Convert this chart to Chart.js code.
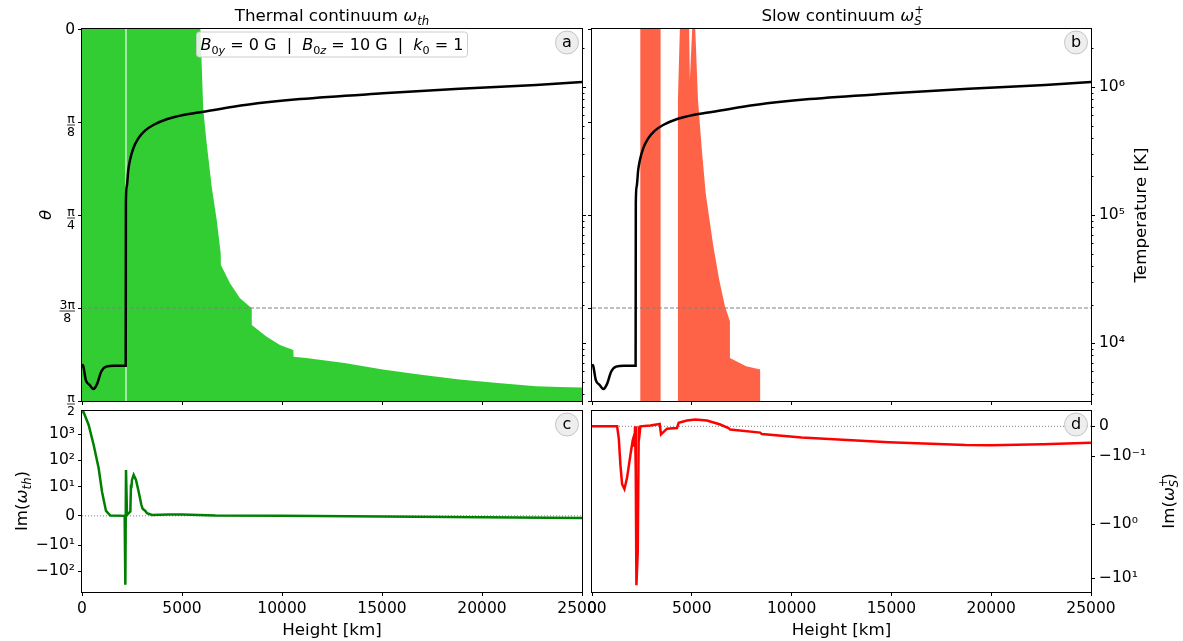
<!DOCTYPE html>
<html>
<head>
<meta charset="utf-8">
<script src="https://cdn.jsdelivr.net/npm/chart.js@4.4.1/dist/chart.umd.min.js"></script>
<style>
  body { margin: 0; background: #fff; width: 1183px; height: 641px; position: relative; overflow: hidden; }
  canvas { position: absolute; }
</style>
</head>
<body>
<canvas id="pa" width="590" height="420" style="left:0;top:0"></canvas>
<canvas id="pb" width="596" height="420" style="left:587px;top:0"></canvas>
<canvas id="pc" width="620" height="236" style="left:0;top:405px"></canvas>
<canvas id="pd" width="596" height="236" style="left:587px;top:405px"></canvas>
<script>
/* ── data ── */
const heightTicks = [0, 5000, 10000, 15000, 20000, 25000];
const thetaTicks = [0, Math.PI / 8, Math.PI / 4, 3 * Math.PI / 8, Math.PI / 2];
const thetaTickLabels = [['0'], ['π', '8'], ['π', '4'], ['3π', '8'], ['π', '2']];
const tempTicks = [1e4, 1e5, 1e6];
const tempTickLabels = ['10⁴', '10⁵', '10⁶'];
const imThTicks = [1000, 100, 10, 0, -10, -100];
const imThTickLabels = ['10³', '10²', '10¹', '0', '−10¹', '−10²'];
const imSTicks = [0, -0.1, -1, -10];
const imSTickLabels = ['0', '−10⁻¹', '−10⁰', '−10¹'];

const refTheta = 3 * Math.PI / 8;       // dashed guide line
const thermalGapHeight = 2200;          // thin white line in panel a

// temperature profile (km, K)
const tempHeight = [0, 57, 192, 383, 575, 766, 958, 1207, 1600, 2185, 2195, 2235, 2315, 2400, 2565,
  2815, 3150, 3565, 4235, 5065, 6065, 7565, 9235, 10900, 15038, 18870, 22701, 25000];
const tempK = [6800, 6650, 5140, 4700, 4380, 4840, 5970, 6540, 6650, 6650, 124000, 166000, 225000, 269000, 332000,
  397000, 456000, 505000, 560000, 604000, 641000, 702000, 759000, 806000, 893000, 970000, 1037000, 1094000];

// thermal continuum region: upper edge in theta (rad), filled down to pi/2
const thermalEdgeHeight = [0, 5920, 6065, 6235, 6485, 6735, 6935, 6945, 7400, 7900, 8485, 8490, 9235, 9900,
  10565, 10580, 11207, 13123, 15038, 16954, 18870, 20785, 22701, 23851, 25000];
const thermalEdgeTheta = [0, 0, 0.342, 0.483, 0.666, 0.807, 0.947, 0.997, 1.074, 1.137, 1.179, 1.250, 1.299, 1.334,
  1.355, 1.384, 1.389, 1.410, 1.438, 1.460, 1.480, 1.495, 1.509, 1.512, 1.514];

// slow continuum region outline (km, rad), filled down to pi/2
const slowHeight = [2413, 2413, 3436, 3436, 4305, 4305, 4402, 4865, 4903, 5019, 5174, 5309, 5502, 5695,
  5792, 6081, 6371, 6660, 6911, 6911, 7722, 8436, 8436];
const slowTheta = [1.571, 0, 0, 1.571, 1.571, 0.298, 0, 0, 0.214, 0, 0, 0.298, 0.509, 0.692,
  0.749, 0.918, 1.058, 1.171, 1.234, 1.389, 1.424, 1.438, 1.571];

// Im(omega_th)
const imThHeight = [0, 83, 333, 583, 833, 1000, 1083, 1200, 1417, 2133, 2167, 2200, 2250, 2417, 2450, 2467,
  2500, 2583, 2700, 2833, 2967, 3033, 3167, 3250, 3500, 4333, 5000, 6667, 10000, 15000, 20000, 25000];
const imThValue = [7000, 6760, 2230, 388, 50, 8.3, 5.5, 1.7, 0.1, 0, -324, 43, 0.3, 1.5, 12, 9.5,
  18, 28, 18, 8.3, 3.8, 2.4, 1.7, 0.9, 0.3, 0.5, 0.5, 0.1, 0, -0.2, -0.45, -0.7];

// Im(omega_S+)
const imSHeight = [0, 1258, 1342, 1425, 1508, 1625, 1758, 1925, 2042, 2092, 2125, 2158, 2192, 2225, 2292,
  2342, 2392, 2425, 2925, 3392, 3458, 3758, 4258, 4342, 4758, 5175, 5758, 6425, 6842, 6925, 8425, 8508,
  10500, 14865, 18726, 20000, 22587, 25000];
const imSValue = [0, 0, -0.04, -0.13, -0.193, -0.225, -0.171, -0.095, -0.046, -0.035, -0.068, 0, -0.15, -13.5, -3.2,
  0, -0.02, 0, 0.003, 0.008, -0.027, -0.008, -0.006, 0.012, 0.019, 0.023, 0.019, 0.006, -0.006, -0.011, -0.021, -0.026,
  -0.037, -0.053, -0.062, -0.063, -0.060, -0.055];

/* ── helpers ── */
const FONT = '"DejaVu Sans", sans-serif';
Chart.defaults.font.family = FONT;
Chart.defaults.color = '#000';

function pts(xs, ys) { return xs.map((x, i) => ({ x: x, y: ys[i] })); }

// symmetric log axis (matplotlib style, linscale 1)
class SymlogScale extends Chart.LinearScale {
  tf(v) {
    const c = this.options.linthresh, L = 10 / 9, a = Math.abs(v);
    return a <= c ? v / c * L : Math.sign(v) * (L + Math.log10(a / c));
  }
  itf(u) {
    const c = this.options.linthresh, L = 10 / 9, a = Math.abs(u);
    return a <= L ? u / L * c : Math.sign(u) * c * Math.pow(10, a - L);
  }
  buildTicks() { return this.options.tickValues.map(v => ({ value: v })); }
  getPixelForValue(v) {
    const s = this.tf(this.min), e = this.tf(this.max);
    return this.getPixelForDecimal((this.tf(v) - s) / (e - s));
  }
  getValueForPixel(p) {
    const s = this.tf(this.min), e = this.tf(this.max);
    return this.itf(s + this.getDecimalForPixel(p) * (e - s));
  }
}
SymlogScale.id = 'symlog';
SymlogScale.defaults = {};
Chart.register(SymlogScale);

// fixed axis size, no extra label padding so the plot boxes line up
function fixSize(prop, n) {
  return s => {
    s[prop] = n;
    s.paddingLeft = s.paddingRight = s.paddingTop = s.paddingBottom = 0;
  };
}

// text with italic / sub / superscript parts, centred on (cx, cy)
function richText(ctx, parts, cx, cy, size, rot) {
  ctx.save();
  ctx.translate(cx, cy);
  ctx.rotate(rot || 0);
  const items = [];
  let w = 0;
  parts.forEach(p => {
    const s = (p.sub || p.sup) ? size * 0.7 : size;
    ctx.font = (p.it ? 'italic ' : '') + s + 'px ' + FONT;
    items.push({ p: p, s: s, x: w });
    if (!p.stack) w += ctx.measureText(p.t).width;
  });
  ctx.fillStyle = '#000';
  ctx.textAlign = 'left';
  ctx.textBaseline = 'alphabetic';
  items.forEach(it => {
    ctx.font = (it.p.it ? 'italic ' : '') + it.s + 'px ' + FONT;
    const dy = it.p.sub ? size * 0.22 : it.p.sup ? -size * 0.4 : 0;
    ctx.fillText(it.p.t, it.x - w / 2, size * 0.35 + dy);
  });
  ctx.restore();
  return w;
}

function decor(o) {
  return {
    id: 'decor',
    afterDraw(chart) {
      const ctx = chart.ctx, a = chart.chartArea;
      ctx.save();
      // minor ticks of the temperature axis
      if (o.minorT) {
        const s = chart.scales.T;
        ctx.strokeStyle = '#000';
        ctx.lineWidth = 1;
        for (let e = 3; e <= 6; e++) {
          for (let k = 2; k <= 9; k++) {
            const v = k * Math.pow(10, e);
            if (v < s.min || v > s.max) continue;
            const y = Math.round(s.getPixelForValue(v)) + 0.5;
            ctx.beginPath(); ctx.moveTo(a.right, y); ctx.lineTo(a.right + 2.5, y); ctx.stroke();
          }
        }
      }
      // theta tick labels as fractions
      if (o.thetaLabels) {
        const s = chart.scales.y;
        thetaTicks.forEach((v, i) => {
          const y = s.getPixelForValue(v);
          const lab = thetaTickLabels[i];
          const right = a.left - 7;
          ctx.fillStyle = '#000';
          if (lab.length === 1) {
            ctx.font = '15.5px ' + FONT;
            ctx.textAlign = 'right'; ctx.textBaseline = 'middle';
            ctx.fillText(lab[0], right, y + 1);
            return;
          }
          ctx.font = '12.5px ' + FONT;
          const w = Math.max(ctx.measureText(lab[0]).width, ctx.measureText(lab[1]).width);
          const cx = right - w / 2, by = y + 3;
          ctx.textAlign = 'center';
          ctx.textBaseline = 'alphabetic';
          ctx.fillText(lab[0], cx, by - 2);
          ctx.textBaseline = 'top';
          ctx.fillText(lab[1], cx, by + 1.5);
          ctx.strokeStyle = '#000'; ctx.lineWidth = 0.8;
          ctx.beginPath(); ctx.moveTo(cx - w / 2, by); ctx.lineTo(cx + w / 2, by); ctx.stroke();
        });
      }
      // frame
      ctx.strokeStyle = '#000';
      ctx.lineWidth = 1;
      ctx.strokeRect(a.left - 0.5, a.top - 0.5, a.right - a.left + 1, a.bottom - a.top + 1);
      // parameter box
      if (o.box) {
        const cx = (a.left + a.right) / 2, cy = a.top + 15.5;
        const probe = document.createElement('canvas').getContext('2d');
        const w = richText(probe, o.box, 0, 0, 16);
        const bw = w + 8, bh = 25;
        ctx.beginPath();
        ctx.roundRect(cx - bw / 2, cy - bh / 2, bw, bh, 3);
        ctx.fillStyle = 'rgba(255,255,255,0.8)'; ctx.fill();
        ctx.strokeStyle = '#cccccc'; ctx.lineWidth = 1; ctx.stroke();
        richText(ctx, o.box, cx, cy, 16);
      }
      // panel letter
      if (o.letter) {
        const cx = a.right - 15, cy = a.top + 13.5;
        ctx.beginPath(); ctx.arc(cx, cy, 11.5, 0, 2 * Math.PI);
        ctx.fillStyle = 'rgba(236,236,236,0.9)'; ctx.fill();
        ctx.strokeStyle = '#c4c4c4'; ctx.lineWidth = 1; ctx.stroke();
        ctx.fillStyle = '#000'; ctx.font = '16px ' + FONT;
        ctx.textAlign = 'center'; ctx.textBaseline = 'middle';
        ctx.fillText(o.letter, cx, cy + 0.5);
      }
      if (o.title) richText(ctx, o.title, (a.left + a.right) / 2, 15, 16.7);
      (o.labels || []).forEach(l => richText(ctx, l.parts, l.x, l.y, 16.7, -Math.PI / 2));
      ctx.restore();
    }
  };
}

function xAxis(showLabels, h) {
  return {
    type: 'linear', position: 'bottom', min: 0, max: 25000,
    afterBuildTicks: s => { s.ticks = heightTicks.map(v => ({ value: v })); },
    ticks: { display: showLabels, autoSkip: false, maxRotation: 0, padding: 4, font: { size: 15.5 }, color: '#000',
      callback: v => String(v) },
    grid: { drawOnChartArea: false, drawTicks: true, tickLength: 4, tickColor: '#000' },
    border: { display: false },
    title: { display: showLabels, text: 'Height [km]', font: { size: 16.7 }, color: '#000', padding: { top: 0, bottom: 0 } },
    afterFit: fixSize('height', h)
  };
}

function thetaAxis(w) {
  return {
    type: 'linear', position: 'left', min: 0, max: Math.PI / 2, reverse: true,
    afterBuildTicks: s => { s.ticks = thetaTicks.map(v => ({ value: v })); },
    ticks: { display: false },
    grid: { drawOnChartArea: false, drawTicks: true, tickLength: 4, tickColor: '#000' },
    border: { display: false },
    afterFit: fixSize('width', w)
  };
}

function tempAxis(showLabels, w) {
  return {
    type: 'logarithmic', position: 'right', min: 3525, max: 2.84e6,
    afterBuildTicks: s => { s.ticks = tempTicks.map(v => ({ value: v, major: true })); },
    ticks: { display: showLabels, autoSkip: false, padding: 4, font: { size: 15.5 }, color: '#000',
      callback: (v, i) => tempTickLabels[i] },
    grid: { drawOnChartArea: false, drawTicks: true, tickLength: 4, tickColor: '#000' },
    border: { display: false },
    afterFit: fixSize('width', w)
  };
}

function symAxis(pos, min, max, c, values, labels, w, pad) {
  return {
    type: 'symlog', position: pos, min: min, max: max, linthresh: c, tickValues: values,
    ticks: { autoSkip: false, padding: pad, font: { size: 15.5 }, color: '#000', callback: (v, i) => labels[i] },
    grid: { drawOnChartArea: false, drawTicks: true, tickLength: 4, tickColor: '#000' },
    border: { display: false },
    afterFit: fixSize('width', w)
  };
}

const common = {
  responsive: false, animation: false, devicePixelRatio: 1,
  plugins: { legend: { display: false }, tooltip: { enabled: false } },
  elements: { point: { radius: 0 }, line: { tension: 0 } }
};

function refLine(y, axis) {
  return { data: pts([0, 25000], [y, y]), yAxisID: axis, borderColor: '#808080', borderWidth: 1,
    borderDash: [4, 2], fill: false, order: 1 };
}

function tempDataset() {
  return { data: pts(tempHeight, tempK), yAxisID: 'T', borderColor: '#000', borderWidth: 2.5,
    cubicInterpolationMode: 'monotone', fill: false, order: 0 };
}

/* ── panel a: thermal continuum ── */
new Chart(document.getElementById('pa'), {
  type: 'line',
  data: { datasets: [
    tempDataset(),
    refLine(refTheta, 'y'),
    { data: pts([thermalGapHeight, thermalGapHeight], [0, Math.PI / 2]), yAxisID: 'y',
      borderColor: 'rgba(255,255,255,0.85)', borderWidth: 1.3, fill: false, order: 2 },
    { data: pts(thermalEdgeHeight, thermalEdgeTheta), yAxisID: 'y', borderWidth: 0, borderColor: '#32cd32',
      backgroundColor: '#32cd32', fill: { value: Math.PI / 2 }, order: 3 }
  ] },
  options: Object.assign({}, common, {
    layout: { autoPadding: false, padding: { top: 29, left: 0, right: 0, bottom: 0 } },
    scales: { x: xAxis(false, 19), y: thetaAxis(82), T: tempAxis(false, 8) }
  }),
  plugins: [decor({
    minorT: true, thetaLabels: true, letter: 'a',
    title: [{ t: 'Thermal continuum ' }, { t: 'ω', it: true }, { t: 'th', sub: true, it: true }],
    labels: [{ parts: [{ t: 'θ', it: true }], x: 45, y: 215 }],
    box: [{ t: 'B', it: true }, { t: '0', sub: true }, { t: 'y', sub: true, it: true }, { t: ' = 0 G  |  ' },
      { t: 'B', it: true }, { t: '0', sub: true }, { t: 'z', sub: true, it: true }, { t: ' = 10 G  |  ' },
      { t: 'k', it: true }, { t: '0', sub: true }, { t: ' = 1' }]
  })]
});

/* ── panel b: slow continuum ── */
new Chart(document.getElementById('pb'), {
  type: 'line',
  data: { datasets: [
    tempDataset(),
    refLine(refTheta, 'y'),
    { data: pts(slowHeight, slowTheta), yAxisID: 'y', borderWidth: 0, borderColor: '#ff6347',
      backgroundColor: '#ff6347', fill: { value: Math.PI / 2 }, order: 3 }
  ] },
  options: Object.assign({}, common, {
    layout: { autoPadding: false, padding: { top: 29, left: 0, right: 0, bottom: 0 } },
    scales: { x: xAxis(false, 19), y: thetaAxis(5), T: tempAxis(true, 92) }
  }),
  plugins: [decor({
    minorT: true, letter: 'b',
    title: [{ t: 'Slow continuum ' }, { t: 'ω', it: true }, { t: '+', sup: true, stack: true }, { t: 'S', sub: true, it: true }],
    labels: [{ parts: [{ t: 'Temperature [K]' }], x: 553, y: 215 }]
  })]
});

/* ── panel c: Im(omega_th) ── */
new Chart(document.getElementById('pc'), {
  type: 'line',
  data: { datasets: [
    { data: pts(imThHeight, imThValue), borderColor: '#008000', borderWidth: 2.5, fill: false, order: 0 },
    { data: pts([0, 25000], [0, 0]), borderColor: '#808080', borderWidth: 1, borderDash: [1, 2], fill: false, order: 1 }
  ] },
  options: Object.assign({}, common, {
    layout: { autoPadding: false, padding: { top: 6, left: 0, right: 38, bottom: 0 } },
    scales: { x: xAxis(true, 49), y: symAxis('left', -612, 7600, 10, imThTicks, imThTickLabels, 82, 3) }
  }),
  plugins: [decor({
    letter: 'c',
    labels: [{ parts: [{ t: 'Im(' }, { t: 'ω', it: true }, { t: 'th', sub: true, it: true }, { t: ')' }], x: 21, y: 96 }]
  })]
});

/* ── panel d: Im(omega_S+) ── */
new Chart(document.getElementById('pd'), {
  type: 'line',
  data: { datasets: [
    { data: pts(imSHeight, imSValue), borderColor: '#ff0000', borderWidth: 2.5, fill: false, order: 0 },
    { data: pts([0, 25000], [0, 0]), borderColor: '#808080', borderWidth: 1, borderDash: [1, 2], fill: false, order: 1 }
  ] },
  options: Object.assign({}, common, {
    layout: { autoPadding: false, padding: { top: 6, left: 5, right: 0, bottom: 0 } },
    scales: { x: xAxis(true, 49), y: symAxis('right', -18.1, 0.051, 0.2, imSTicks, imSTickLabels, 92, 4) }
  }),
  plugins: [decor({
    letter: 'd',
    labels: [{ parts: [{ t: 'Im(' }, { t: 'ω', it: true }, { t: '+', sup: true, stack: true }, { t: 'S', sub: true, it: true }, { t: ')' }], x: 581, y: 96 }]
  })]
});
</script>
</body>
</html>
